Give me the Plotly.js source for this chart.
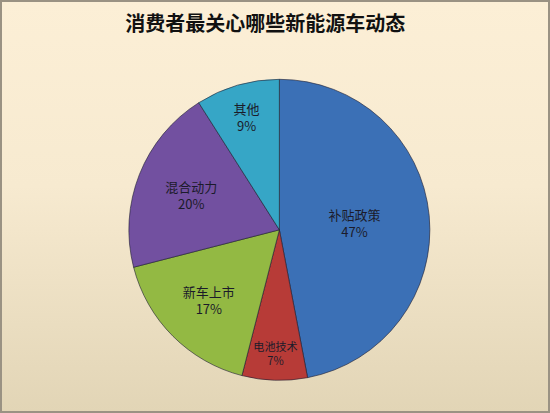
<!DOCTYPE html>
<html>
<head>
<meta charset="utf-8">
<script src="https://cdn.plot.ly/plotly-3.0.1.min.js"></script>
<style>
  html, body { margin: 0; padding: 0; }
  #chart {
    width: 550px; height: 413px; box-sizing: border-box;
    border: 2px solid #9a9283;
    background: linear-gradient(to bottom, #fcefd6 0%, #f7ead0 45%, #e2d5b6 100%);
  }
</style>
</head>
<body>
<div id="chart"></div>
<script>
var labels = ['补贴政策', '电池技术', '新车上市', '混合动力', '其他'];
var shares = [47, 7, 17, 20, 9];
var colors = ['#3b70b6', '#b73b37', '#93b943', '#7250a0', '#36a6c6'];

var trace = {
    type: 'pie',
    labels: labels,
    values: shares,
    sort: false,
    direction: 'clockwise',
    rotation: 0,
    marker: { colors: colors, line: { color: 'rgba(30,30,50,0.6)', width: 1 } },
    textinfo: 'label+percent',
    texttemplate: '%{label}<br>%{percent:.0%}',
    textposition: 'inside',
    insidetextorientation: 'horizontal',
    textfont: { family: 'Noto Sans CJK SC', size: 13, color: '#1b1b2a' },
    hoverinfo: 'none',
    domain: { x: [0.231, 0.785], y: [0.075, 0.811] }
};

var layout = {
    width: 546, height: 409,
    margin: { l: 0, r: 0, t: 0, b: 0 },
    paper_bgcolor: 'rgba(0,0,0,0)',
    showlegend: false,
    title: {
        text: '<b>消费者最关心哪些新能源车动态</b>',
        font: { family: 'Noto Sans CJK SC', size: 20, color: '#111111' },
        x: 0.482, xanchor: 'center',
        y: 0.945, yanchor: 'middle'
    }
};

Plotly.newPlot(document.getElementById('chart'), [trace], layout, { displayModeBar: false, staticPlot: true });
</script>
</body>
</html>
